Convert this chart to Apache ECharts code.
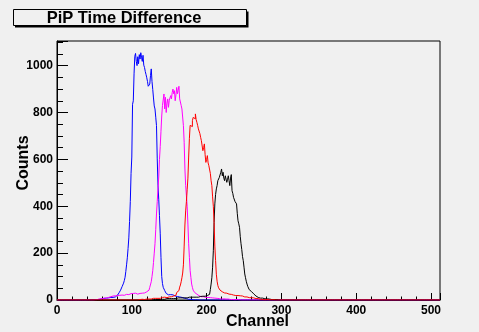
<!DOCTYPE html>
<html>
<head>
<meta charset="utf-8">
<script src="https://cdn.jsdelivr.net/npm/echarts@6/dist/echarts.min.js"></script>
<style>
html,body{margin:0;padding:0;background:#f0f0f0;}
#chart{width:479px;height:332px;}
</style>
</head>
<body>
<div id="chart"></div>
<script>
// Histogram: 512 channels, 1 channel per bin. Each series stored from a start channel; other bins are 0.
const nChannels = 512;
const yTicks = [0, 200, 400, 600, 800, 1000];
const xTicks = [0, 100, 200, 300, 400, 500];

const blueStart = 40;
const blueCounts = [
  0,1,0,0,1,0,2,1,0,1,2,1,3,2,1,
  3,2,4,2,5,4,5,7,6,5,8,7,6,9,10,8,11,9,12,11,
  12,14,13,17,19,21,24,27,31,36,42,49,57,64,72,83,97,122,150,180,220,265,335,420,540,
  610,835,850,965,1040,1052,1018,1000,1038,1008,1047,1028,1055,1036,1018,1044,1002,992,975,962,
  948,932,912,905,921,958,986,932,898,862,828,815,780,744,602,490,430,360,285,182,100,70,54,46,40,32,
  28,25,22,24,20,23,21,19,22,18,20,17,19,16,15,17,14,13,12,14,11,10,9,8,9,7,6,5,4,3,
  3,2,3,1,2,1,0,1,1,0,0,1,0,0,0
];

const magentaStart = 45;
const magentaCounts = [
  0,1,0,1,2,1,2,3,2,4,3,5,4,6,5,7,
  6,8,7,9,8,10,12,11,13,12,14,13,15,17,14,16,18,15,17,19,16,18,20,17,19,21,18,22,20,23,
  21,24,22,25,23,26,22,27,24,25,28,23,26,29,24,27,25,30,26,28,31,27,29,32,28,30,33,31,35,34,38,42,48,
  54,62,78,100,125,160,200,240,300,367,420,475,525,600,655,720,785,830,
  836,879,815,865,800,840,858,822,850,862,872,858,885,900,880,893,850,875,907,880,895,912,858,850,830,815,808,744,673,559,488,445,
  400,324,240,182,125,96,68,54,42,36,32,28,25,22,20,18,
  16,17,14,15,13,14,12,13,11,12,10,11,12,9,10,11,8,9,10,7,8,9,6,7,8,5,6,7,5,4,6,3,5,4,3,4,2,3,4,2,3,2,1,3,2,1,2,1,0,1,2,1,0,1,0,1,0,0,1,0,0
];

const redStart = 105;
const redCounts = [
  0,1,0,1,1,2,1,2,3,2,3,2,4,3,4,5,3,4,6,5,4,6,5,7,6,5,
  7,6,8,7,9,8,7,10,9,11,10,8,12,11,13,10,12,14,13,11,15,14,16,13,17,15,18,20,22,
  32,36,40,46,55,64,78,95,115,150,230,320,380,420,470,520,610,690,
  745,751,740,765,779,786,773,794,770,758,745,730,737,710,694,680,673,637,650,666,
  620,587,600,616,585,573,566,540,509,488,440,400,330,230,168,110,80,62,
  52,47,42,38,35,33,32,30,31,28,29,27,28,25,26,26,24,22,23,21,22,20,19,21,18,19,17,18,18,16,
  15,17,14,15,13,14,12,13,11,12,10,11,9,10,11,8,9,7,8,6,7,5,6,4,5,3,4,3,2,3,
  2,1,2,1,2,1,0,1,1,0,1,0,0,1,0
];

const blackStart = 120;
const blackCounts = [
  0,1,0,1,1,0,2,1,2,1,3,2,1,3,2,4,3,2,3,4,3,5,4,3,5,4,6,5,4,6,5,7,6,5,7,6,8,7,6,8,
  7,9,8,7,9,8,10,9,8,10,9,11,10,9,11,10,12,11,10,12,11,13,12,11,13,12,14,13,12,14,13,15,14,13,16,15,17,16,18,17,19,20,22,24,
  26,45,68,95,140,210,330,410,450,474,488,509,505,523,530,545,559,530,545,520,
  509,530,523,502,515,530,509,488,520,535,466,455,438,430,420,415,410,370,338,325,
  310,270,240,215,185,168,140,111,95,80,68,58,50,44,40,36,32,28,26,22,20,17,15,13,11,10,9,
  8,9,7,8,6,7,5,6,4,5,6,3,4,5,3,2,4,3,2,1,3,2,1,2,1,0,1,0,1,0
];

function hist(start, counts) {
  const pts = [];
  for (let ch = 0; ch < nChannels; ch++) {
    const i = ch - start;
    const v = (i >= 0 && i < counts.length) ? counts[i] : 0;
    pts.push([ch, v]);
  }
  pts.push([nChannels, pts[pts.length - 1][1]]);
  return pts;
}

const font = 'Liberation Sans, Arial, Helvetica, sans-serif';
const chart = echarts.init(document.getElementById('chart'), null, {renderer: 'canvas'});

function mkSeries(name, color, start, counts) {
  return {
    name: name, type: 'line', step: 'end', data: hist(start, counts),
    showSymbol: false, symbol: 'none',
    lineStyle: {color: color, width: 1},
    emphasis: {disabled: true}, animation: false
  };
}

chart.setOption({
  animation: false,
  backgroundColor: '#f0f0f0',
  grid: {left: 57, right: 39, top: 41, bottom: 32, show: true, borderColor: '#000', borderWidth: 1, backgroundColor: '#f0f0f0'},
  xAxis: {
    type: 'value', min: 0, max: nChannels, interval: 100,
    axisLine: {show: true, lineStyle: {color: '#000', width: 1}},
    axisTick: {show: true, inside: true, length: 7, lineStyle: {color: '#000'}},
    minorTick: {show: true, splitNumber: 5, length: 3.5, lineStyle: {color: '#000'}},
    splitLine: {show: false},
    axisLabel: {
      color: '#000', fontWeight: 'bold', fontSize: 12, fontFamily: font, margin: 5,
      showMaxLabel: false,
      formatter: function (v) { return xTicks.indexOf(v) >= 0 ? String(v) : ''; }
    }
  },
  yAxis: {
    type: 'value', min: 0, max: 1105, interval: 200,
    axisLine: {show: true, lineStyle: {color: '#000', width: 1}},
    axisTick: {show: true, inside: true, length: 11, lineStyle: {color: '#000'}},
    minorTick: {show: true, splitNumber: 4, length: 6, lineStyle: {color: '#000'}},
    splitLine: {show: false},
    axisLabel: {
      color: '#000', fontWeight: 'bold', fontSize: 12, fontFamily: font, margin: 4,
      showMaxLabel: false,
      formatter: function (v) { return yTicks.indexOf(v) >= 0 ? String(v) : ''; }
    }
  },
  series: [
    mkSeries('blue', '#0000ff', blueStart, blueCounts),
    mkSeries('magenta', '#ff00ff', magentaStart, magentaCounts),
    mkSeries('black', '#000000', blackStart, blackCounts),
    mkSeries('red', '#ff0000', redStart, redCounts)
  ],
  graphic: [
    {type: 'rect', shape: {x: 15, y: 11.5, width: 233.5, height: 16}, style: {fill: '#000'}, silent: true},
    {type: 'rect', shape: {x: 13.5, y: 9.5, width: 233, height: 16}, style: {fill: '#f0f0f0', stroke: '#000', lineWidth: 1}, silent: true},
    {type: 'text', x: 124, y: 18, style: {text: 'PiP Time Difference', font: 'bold 16.5px ' + font, fill: '#000', textAlign: 'center', textVerticalAlign: 'middle'}, silent: true},
    {type: 'text', x: 257.5, y: 322, style: {text: 'Channel', font: 'bold 16px ' + font, fill: '#000', textAlign: 'center', textVerticalAlign: 'middle'}, silent: true},
    {type: 'text', x: 24, y: 163, rotation: Math.PI / 2, style: {text: 'Counts', font: 'bold 16px ' + font, fill: '#000', textAlign: 'center', textVerticalAlign: 'middle'}, silent: true}
  ]
});
</script>
</body>
</html>
